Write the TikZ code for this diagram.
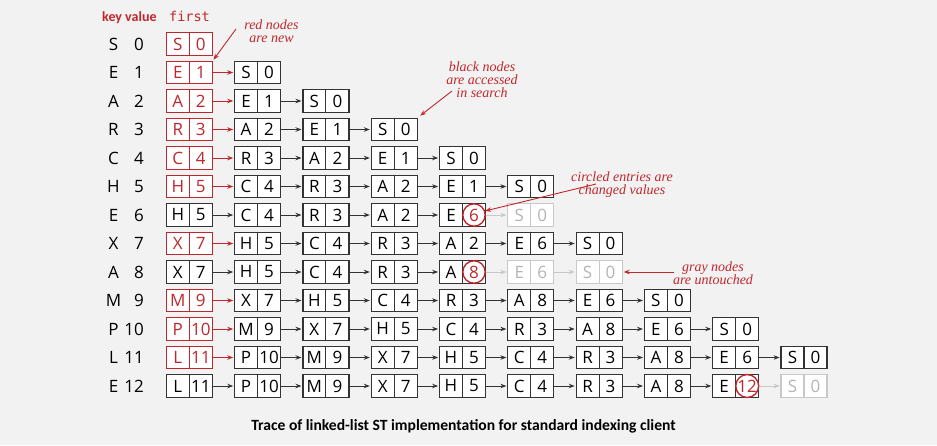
\documentclass[tikz,border=0pt]{standalone}
\usepackage{fontspec}
\usetikzlibrary{arrows.meta}
\setmainfont{Liberation Serif}
\newfontfamily\cellfont{Open Sans}
\newfontfamily\headfont{DejaVu Sans Mono}
\newfontfamily\labelfont{Carlito}
\definecolor{tracered}{RGB}{192,39,45}
\definecolor{pagegray}{RGB}{242,242,242}
\definecolor{inkgray}{RGB}{51,51,51}
\definecolor{idlegray}{RGB}{200,200,200}
\definecolor{idletext}{RGB}{180,180,180}

\begin{document}
\begin{tikzpicture} [x=1pt, y=-1pt,
cell/.style={draw=#1, fill=white, line width=1.2pt, minimum width=46pt, minimum height=22.7pt, inner sep=0pt,
  font=\cellfont\fontsize{17}{19}\selectfont},
new cell/.style={cell=tracered, text=tracered},
old cell/.style={cell=inkgray, text=black},
hit cell/.style={old cell},
idle cell/.style={cell=idlegray, text=idletext},
rule/.style={line width=1.1pt},
new rule/.style={rule, tracered},
old rule/.style={rule, inkgray},
hit rule/.style={old rule},
idle rule/.style={rule, idlegray},
link/.style={-{Stealth[length=6pt,width=4.5pt]}, line width=0.9pt, shorten >=0.8pt},
new link/.style={link, tracered},
old link/.style={link, inkgray},
hit link/.style={link, idlegray},
idle link/.style={link, idlegray},
changed/.style={circle, draw=tracered, fill=white, line width=1.4pt, minimum size=22.4pt, inner sep=0pt,
  text=tracered, font=\cellfont\fontsize{17}{19}\selectfont},
entry/.style={inner sep=0pt, font=\cellfont\fontsize{17}{19}\selectfont},
note/.style={align=center, text=tracered, inner sep=0pt, font=\itshape\fontsize{14}{13.2}\selectfont},
note arrow/.style={-{Stealth[length=6pt,width=4.5pt]}, tracered, line width=0.9pt}]

\pgfmathsetmacro{\dx}{68.3}
\pgfmathsetmacro{\dy}{28.5}

\fill[pagegray] (0,0) rectangle (937,445);

%column heads
\node[anchor=base west, inner sep=0pt, text=tracered, font=\labelfont\bfseries\fontsize{14}{16}\selectfont] (keyhead) at (102,21) {key value};
\node[anchor=base west, inner sep=0pt, text=tracered, font=\headfont\fontsize{13.5}{16}\selectfont] (firsthead) at (169,21) {first};

%one row per put(), list drawn from first
\foreach \r/\k/\v/\items in {
  0/S/0/{new/S/0},
  1/E/1/{new/E/1, old/S/0},
  2/A/2/{new/A/2, old/E/1, old/S/0},
  3/R/3/{new/R/3, old/A/2, old/E/1, old/S/0},
  4/C/4/{new/C/4, old/R/3, old/A/2, old/E/1, old/S/0},
  5/H/5/{new/H/5, old/C/4, old/R/3, old/A/2, old/E/1, old/S/0},
  6/E/6/{old/H/5, old/C/4, old/R/3, old/A/2, hit/E/{}, idle/S/0},
  7/X/7/{new/X/7, old/H/5, old/C/4, old/R/3, old/A/2, old/E/6, old/S/0},
  8/A/8/{old/X/7, old/H/5, old/C/4, old/R/3, hit/A/{}, idle/E/6, idle/S/0},
  9/M/9/{new/M/9, old/X/7, old/H/5, old/C/4, old/R/3, old/A/8, old/E/6, old/S/0},
  10/P/10/{new/P/10, old/M/9, old/X/7, old/H/5, old/C/4, old/R/3, old/A/8, old/E/6, old/S/0},
  11/L/11/{new/L/11, old/P/10, old/M/9, old/X/7, old/H/5, old/C/4, old/R/3, old/A/8, old/E/6, old/S/0},
  12/E/12/{old/L/11, old/P/10, old/M/9, old/X/7, old/H/5, old/C/4, old/R/3, old/A/8, hit/E/{}, idle/S/0}}
{
  \node[entry] (k\r) at (113.5,{44+\dy*\r}) {\k};
  \node[entry, anchor=east] (v\r) at (144,{44+\dy*\r}) {\v};
  \foreach \s/\a/\b [count=\c from 0, remember=\s as \prev (initially new)] in \items {
    \node[\s\space cell] (r\r c\c) at ({189.3+\dx*\c},{44+\dy*\r}) {\makebox[23pt]{\a}\makebox[23pt]{\b}};
    \draw[\s\space rule] (r\r c\c.north) -- (r\r c\c.south);
    \ifnum\c>0
      \pgfmathtruncatemacro{\p}{\c-1}
      \draw[\prev\space link] (r\r c\p.east) -- (r\r c\c.west);
    \fi
  }
}

%changed values
\node[changed] (hit6) at ([xshift=11.5pt]r6c4.center) {6};
\node[changed] (hit8) at ([xshift=11.5pt]r8c4.center) {8};
\node[changed] (hit12) at ([xshift=11.5pt]r12c8.center) {12};

%notes
\node[note] (newnote) at (271.5,31.5) {red nodes\\are new};
\node[note] (seennote) at (482,79.5) {black nodes\\are accessed\\in search};
\node[note] (hitnote) at (622,184.5) {circled entries are\\changed values};
\node[note] (idlenote) at (713,273) {gray nodes\\are untouched};

\coordinate (newfrom) at (236,29);
\coordinate (seenfrom) at (452,91);
\coordinate (hitfrom) at (596,184);
\coordinate (idlefrom) at (674,272);

\draw[note arrow, shorten >=1pt] (newfrom) -- (r1c0.north east);
\draw[note arrow, shorten >=3pt] (seenfrom) -- (r3c3.north east);
\draw[note arrow] (hitfrom) -- (hit6.20);
\draw[note arrow, shorten >=1pt] (idlefrom) -- (r8c6.east);

\node[anchor=base, inner sep=0pt, font=\labelfont\bfseries\fontsize{15.6}{18}\selectfont] (caption) at (463.5,430.7)
  {Trace of linked-list ST implementation for standard indexing client};

\end{tikzpicture}
\end{document}
